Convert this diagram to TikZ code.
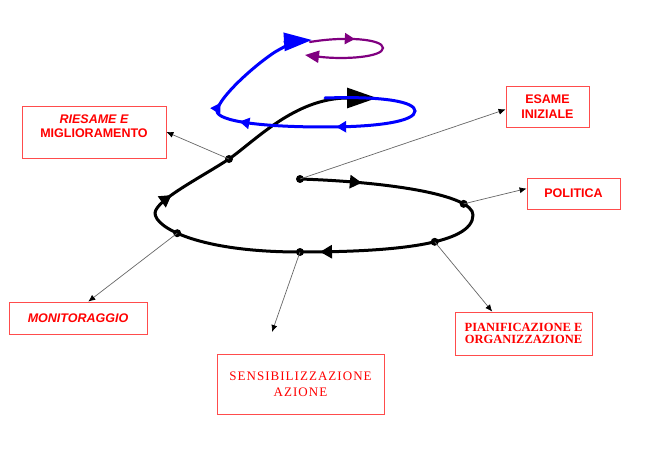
\documentclass[tikz,border=0pt]{standalone}
\usepackage{fontspec}
\usetikzlibrary{arrows.meta,decorations.markings}
\newfontfamily\sansbox{Liberation Sans}
\newfontfamily\serifbox{Liberation Serif}
\newfontfamily\serifwide[LetterSpace=8]{Liberation Serif}
\definecolor{spiralblue}{RGB}{0,0,255}
\definecolor{spiralpurple}{RGB}{128,0,128}
\definecolor{boxred}{RGB}{255,0,0}
\tikzset{
  box/.style={draw=boxred!70, line width=.8pt, text=boxred, align=center, inner sep=0pt},
  sanstext/.style={font=\sansbox\bfseries\fontsize{12.5}{14.5}\selectfont},
  seriftext/.style={font=\serifbox\bfseries\fontsize{12.5}{12.5}\selectfont},
  widetext/.style={font=\serifwide\fontsize{13}{16}\selectfont},
  link/.style={draw=black!60, line width=.7pt, -{Latex[length=7pt,width=6pt,color=black]}},
  spiral/.style={line width=3pt, line cap=round},
  smalltip/.tip={Triangle[length=12pt,width=13pt]},
  thintip/.tip={Triangle[length=10pt,width=11pt]},
  mid tip/.style 2 args={postaction={decorate,decoration={markings,mark=at position #1 with {\arrow{#2}}}}},
}
\begin{document}
\begin{tikzpicture}[x=1pt,y=-1pt]
  \useasboundingbox (0,0) rectangle (654,452);
  %%%%% BOXES %%%%%
  \node[box, sanstext, minimum width=144pt, minimum height=52pt] (riesame) at (94,132) {{\itshape RIESAME E}\\MIGLIORAMENTO\\[-2.5pt]\mbox{}};
  \node[box, sanstext, minimum width=83pt, minimum height=41pt] (esame) at (547.5,106.5) {ESAME\\INIZIALE};
  \node[box, sanstext, minimum width=93pt, minimum height=31pt] (politica) at (573.5,193.5) {POLITICA};
  \node[box, sanstext, minimum width=138pt, minimum height=32pt] (monit) at (78,318) {\itshape MONITORAGGIO};
  \node[box, widetext, minimum width=167pt, minimum height=60pt] (sens) at (300.5,384) {SENSIBILIZZAZIONE\\AZIONE};
  \node[box, seriftext, minimum width=137pt, minimum height=43pt] (pian) at (523.5,333.5) {PIANIFICAZIONE E\\ORGANIZZAZIONE};

  %%%%% SPIRAL %%%%%
  \draw[spiral, mid tip={62pt}{smalltip}] (300,179) coordinate (dStart)
    .. controls (390,182) and (473,195) .. coordinate[pos=.8] (dPol) (473,215);
  \draw[spiral, mid tip={-20pt}{smalltip}] (473,215)
    .. controls (473,245) and (390,252) .. coordinate[pos=.42] (dPian) (300,252) coordinate (dSens);
  \draw[spiral] (300,252)
    .. controls (200,252) and (155,228) .. coordinate[pos=.6] (dMon) (155,213);
  \draw[spiral, mid tip={25pt}{smalltip}] (155,213)
    .. controls (156,200) and (200,178) .. (229,159) coordinate (dRies);
  \draw[spiral, -{Triangle[length=30pt,width=20pt]}] (229,159)
    .. controls (255,141) and (295,98) .. (377,98);

  %%%%% BLUE LOOP %%%%%
  \draw[spiral, spiralblue, mid tip={-26pt}{thintip}, mid tip={-123pt}{thintip}] (325,98)
    .. controls (385,96) and (415,102) .. (415,111)
    .. controls (415,121) and (380,127) .. (325,127)
    .. controls (260,127) and (217,121) .. (217,111);
  \draw[spiral, spiralblue, mid tip={9pt}{thintip}, -{Triangle[length=28pt,width=18pt]}] (217,111)
    .. controls (219,97) and (255,65) .. (275,52)
    .. controls (287,45) and (297,41) .. (312,40);

  %%%%% PURPLE LOOP %%%%%
  \draw[line width=2.2pt, spiralpurple, line cap=round, mid tip={45pt}{thintip}, -{Triangle[length=14pt,width=12pt]}] (310,42)
    .. controls (345,36) and (383,39) .. (383,48)
    .. controls (383,57) and (345,60) .. (305,55);

  %%%%% DOTS %%%%%
  \foreach \d in {dStart,dPol,dPian,dSens,dMon,dRies}
    \fill (\d) circle[radius=4pt];

  %%%%% LINKS %%%%%
  \coordinate (sensTip) at (272,332);
  \draw[link] (dStart) -- (esame.184);
  \draw[link] (dPol) -- (politica.174);
  \draw[link] (dPian) -- (pian.145);
  \draw[link] (dSens) -- (sensTip);
  \draw[link] (dMon) -- (monit.58);
  \draw[link] (dRies) -- (riesame.east);
\end{tikzpicture}
\end{document}
